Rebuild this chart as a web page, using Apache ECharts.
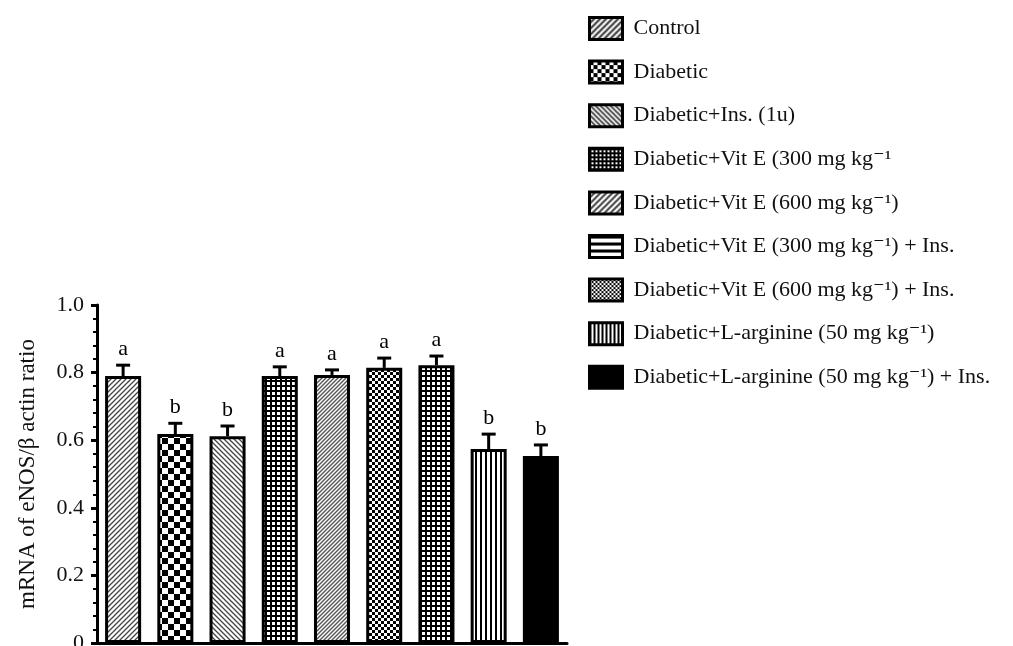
<!DOCTYPE html>
<html>
<head>
    <meta charset="UTF-8">
    <title>eNOS mRNA</title>
    <script src="https://cdn.jsdelivr.net/npm/echarts@6/dist/echarts.min.js"></script>
</head>
<body style="margin:0;background:#fff">
    <div id="main" style="width:1013px;height:646px;"></div>
    <script type="text/javascript">
        // data
        var groups = [
            'Control',
            'Diabetic',
            'Diabetic+Ins. (1u)',
            'Diabetic+Vit E (300 mg kg\u207B\u00B9',
            'Diabetic+Vit E (600 mg kg\u207B\u00B9)',
            'Diabetic+Vit E (300 mg kg\u207B\u00B9) + Ins.',
            'Diabetic+Vit E (600 mg kg\u207B\u00B9) + Ins.',
            'Diabetic+L-arginine (50 mg kg\u207B\u00B9)',
            'Diabetic+L-arginine (50 mg kg\u207B\u00B9) + Ins.'
        ];
        var means = [0.79, 0.618, 0.612, 0.79, 0.793, 0.814, 0.822, 0.574, 0.553];
        var errUpper = [0.822, 0.65, 0.642, 0.817, 0.808, 0.843, 0.849, 0.618, 0.586];
        var letters = ['a', 'b', 'b', 'a', 'a', 'a', 'a', 'b', 'b'];
        var yTicks = [0, 0.2, 0.4, 0.6, 0.8, 1.0];

        // small canvas tiles for the hatch fills
        function tile(size, draw) {
            var c = document.createElement('canvas');
            c.width = size; c.height = size;
            var ctx = c.getContext('2d');
            ctx.fillStyle = '#fff';
            ctx.fillRect(0, 0, size, size);
            draw(ctx, size);
            return { image: c, repeat: 'repeat' };
        }
        function diag(dir, size, color, lw) {
            return tile(size, function (ctx, s) {
                ctx.strokeStyle = color;
                ctx.lineWidth = lw;
                ctx.beginPath();
                if (dir > 0) {
                    ctx.moveTo(0, s); ctx.lineTo(s, 0);
                    ctx.moveTo(-1, 1); ctx.lineTo(1, -1);
                    ctx.moveTo(s - 1, s + 1); ctx.lineTo(s + 1, s - 1);
                } else {
                    ctx.moveTo(0, 0); ctx.lineTo(s, s);
                    ctx.moveTo(s - 1, -1); ctx.lineTo(s + 1, 1);
                    ctx.moveTo(-1, s - 1); ctx.lineTo(1, s + 1);
                }
                ctx.stroke();
            });
        }
        function checker(cell) {
            return tile(cell * 2, function (ctx, s) {
                ctx.fillStyle = '#000';
                ctx.fillRect(0, 0, cell, cell);
                ctx.fillRect(cell, cell, cell, cell);
            });
        }
        function grid(step, lw) {
            return tile(step, function (ctx, s) {
                ctx.fillStyle = '#000';
                ctx.fillRect(0, 0, s, lw);
                ctx.fillRect(0, 0, lw, s);
            });
        }
        function vstripes(step, lw) {
            return tile(step, function (ctx, s) {
                ctx.fillStyle = '#000';
                ctx.fillRect(0, 0, lw, s);
            });
        }
        function hstripes(step, lw) {
            return tile(step, function (ctx, s) {
                ctx.fillStyle = '#000';
                ctx.fillRect(0, 0, s, lw);
            });
        }

        var barFills = [
            diag(1, 5, '#444', 1.3),
            checker(6),
            diag(-1, 5, '#444', 1.3),
            grid(5, 2),
            diag(1, 4, '#555', 1.4),
            checker(3),
            grid(5, 2),
            vstripes(5, 2),
            '#000'
        ];
        var legendFills = [
            diag(1, 6, '#333', 2),
            checker(4),
            diag(-1, 5, '#333', 1.6),
            grid(4, 2),
            diag(1, 6, '#444', 2),
            hstripes(7, 3),
            checker(2),
            vstripes(4, 2),
            '#000'
        ];

        var serif = '"Liberation Serif", "DejaVu Serif", serif';

        var series = groups.map(function (g, i) {
            return {
                name: g,
                type: 'bar',
                stack: 'one',
                barWidth: '69%',
                itemStyle: { color: barFills[i], borderColor: '#000', borderWidth: 3 },
                data: groups.map(function (_, j) { return j === i ? means[i] : '-'; }),
                z: 2
            };
        });

        // error bars with the significance letters on top
        series.push({
            type: 'custom',
            name: 'err',
            z: 3,
            data: means.map(function (m, i) { return [i, m, errUpper[i], letters[i]]; }),
            renderItem: function (params, api) {
                var p0 = api.coord([api.value(0), api.value(1)]);
                var p1 = api.coord([api.value(0), api.value(2)]);
                var hw = 7;
                return {
                    type: 'group',
                    children: [
                        { type: 'line', shape: { x1: p0[0], y1: p0[1], x2: p1[0], y2: p1[1] }, style: { stroke: '#000', lineWidth: 3 } },
                        { type: 'line', shape: { x1: p1[0] - hw, y1: p1[1], x2: p1[0] + hw, y2: p1[1] }, style: { stroke: '#000', lineWidth: 3 } },
                        { type: 'text', x: p1[0], y: p1[1] - 5, style: { text: letters[params.dataIndex], fill: '#000', font: '22px ' + serif, align: 'center', verticalAlign: 'bottom' } }
                    ]
                };
            }
        });

        var myChart = echarts.init(document.getElementById('main'));
        var option = {
            animation: false,
            backgroundColor: '#fff',
            grid: { left: 97, right: 446, top: 305, bottom: 3, outerBoundsMode: 'none', containLabel: false },
            legend: {
                orient: 'vertical',
                left: 583,
                top: 11,
                itemWidth: 33,
                itemHeight: 22,
                itemGap: 18.6,
                textStyle: { fontFamily: serif, fontSize: 22, color: '#111', padding: [0, 0, 0, 6] },
                data: groups.map(function (g, i) {
                    return { name: g, icon: 'rect', itemStyle: { color: legendFills[i], borderColor: '#000', borderWidth: 3 } };
                }),
                selectedMode: false
            },
            xAxis: {
                type: 'category',
                data: groups,
                axisLine: { lineStyle: { color: '#000', width: 3 } },
                axisTick: { show: false },
                axisLabel: { show: false }
            },
            yAxis: {
                type: 'value',
                min: 0,
                max: 1,
                interval: 0.2,
                name: 'mRNA of eNOS/\u03B2 actin ratio',
                nameLocation: 'middle',
                nameGap: 58,
                nameTextStyle: { fontFamily: serif, fontSize: 23, color: '#111' },
                axisLine: { show: true, lineStyle: { color: '#000', width: 3 } },
                axisTick: { show: true, length: 6, lineStyle: { color: '#000', width: 3 } },
                minorTick: { show: true, splitNumber: 5, length: 4, lineStyle: { color: '#000', width: 2 } },
                splitLine: { show: false },
                axisLabel: {
                    margin: 13,
                    fontFamily: serif,
                    fontSize: 22,
                    color: '#111',
                    formatter: function (v) {
                        for (var k = 0; k < yTicks.length; k++) {
                            if (Math.abs(v - yTicks[k]) < 1e-9) return v === 0 ? '0' : yTicks[k].toFixed(1);
                        }
                        return '';
                    }
                }
            },
            series: series
        };
        myChart.setOption(option);
    </script>
</body>
</html>
